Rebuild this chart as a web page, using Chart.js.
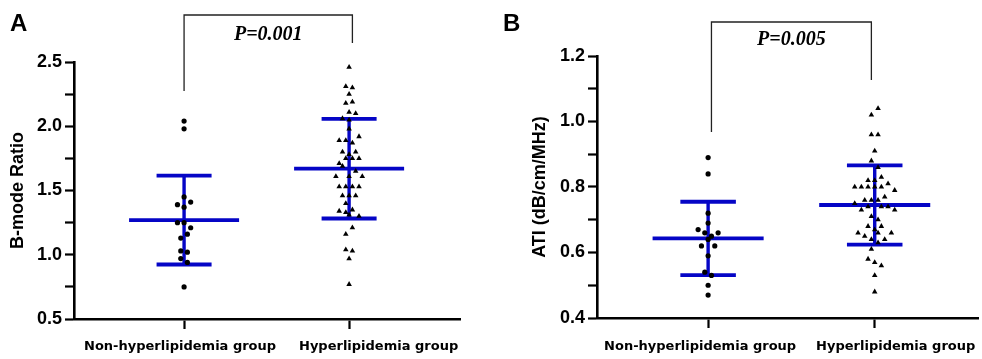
<!DOCTYPE html>
<html><head><meta charset="utf-8">
<script src="https://cdn.jsdelivr.net/npm/chart.js@4.4.0/dist/chart.umd.min.js"></script>
<style>
html,body{margin:0;padding:0;background:#fff;}
#wrap{position:relative;width:982px;height:359px;overflow:hidden;background:#fff;}
#cA{position:absolute;left:0;top:0;}
#cB{position:absolute;left:490px;top:0;}
</style></head><body>
<div id="wrap"><canvas id="cA" width="490" height="359"></canvas><canvas id="cB" width="492" height="359"></canvas></div>
<script>
// ---- data ----
const categories = ['Non-hyperlipidemia group', 'Hyperlipidemia group'];

const bmodeNon = [2.04, 1.98, 1.45, 1.39, 1.41, 1.37, 1.25, 1.25, 1.21, 1.16, 1.13, 1.03, 1.02, 0.97, 0.94, 0.75];
const bmodeNonCol = [0, 0, 0, -2, 2, 0, -2, 0, 2, 1, -1, -1, 1, -1, 1, 0];

const bmodeHyper = [2.46, 2.31, 2.30, 2.25, 2.18, 2.19, 2.11, 2.10, 2.06, 2.05, 1.98, 1.89, 1.89, 1.87, 1.92, 1.80, 1.80, 1.78, 1.75, 1.75, 1.75, 1.71, 1.69, 1.65, 1.61, 1.61, 1.61, 1.53, 1.53, 1.53, 1.53, 1.46, 1.46, 1.46, 1.40, 1.34, 1.33, 1.35, 1.31, 1.30, 1.21, 1.16, 1.04, 1.03, 0.97, 0.77];
const bmodeHyperCol = [0, -1, 1, 0, -1, 1, 0, 2, -2, 0, 0, -3, -1, 1, 3, -2, 2, 0, -1, 1, 3, -3, -2, 2, -4, 0, 4, -3, -1, 1, 3, -2, 0, 2, -1, -3, -1, 1, 0, 3, 1, -1, -1, 1, 0, 0];

const atiNon = [0.89, 0.84, 0.72, 0.69, 0.67, 0.66, 0.66, 0.65, 0.64, 0.62, 0.62, 0.59, 0.54, 0.53, 0.50, 0.47];
const atiNonCol = [0, 0, 0, 0, -3, -1, 3, 1, 0, -2, 2, 0, -1, 1, 0, 0];

const atiHyper = [1.04, 1.02, 0.96, 0.96, 0.91, 0.88, 0.86, 0.82, 0.82, 0.83, 0.81, 0.80, 0.80, 0.80, 0.80, 0.80, 0.79, 0.77, 0.76, 0.76, 0.76, 0.75, 0.73, 0.74, 0.74, 0.74, 0.73, 0.71, 0.70, 0.68, 0.68, 0.67, 0.66, 0.65, 0.66, 0.66, 0.64, 0.64, 0.63, 0.61, 0.58, 0.57, 0.56, 0.53, 0.48];
const atiHyperCol = [1, -1, -1, 1, 0, -1, 1, -2, 0, 2, 4, -6, -4, -2, 0, 2, 6, 3, -3, -1, 1, -6, -4, -2, 2, 4, 6, -1, 1, -2, 2, 0, -5, -3, 1, 5, -1, 3, 1, -1, -2, 0, 2, 0, 0];

const bmodeMean = [1.27, 1.67];
const bmodeSD = [0.346, 0.388];
const atiMean = [0.643, 0.745];
const atiSD = [0.112, 0.121];

const bmodeTicks = [0.5, 1.0, 1.5, 2.0, 2.5];
const atiTicks = [0.4, 0.6, 0.8, 1.0, 1.2];

const pTextA = 'P=0.001';
const pTextB = 'P=0.005';

// ---- styling ----
const BLUE = '#0505c6';
const COL_W = 0.02;     // width of one swarm column in category units
const MEAN_HALF = 1/3;
const CAP_HALF = 1/6;

function pts(vals, cols, g) {
  return vals.map((v, i) => ({x: g + cols[i] * COL_W, y: v}));
}
function seg(x1, y1, x2, y2, w) {
  return {data: [{x: x1, y: y1}, {x: x2, y: y2}], showLine: true, pointRadius: 0,
    borderColor: BLUE, borderWidth: w, borderCapStyle: 'butt', order: 2};
}
function summary(means, sds) {
  const out = [];
  means.forEach((m, g) => {
    const s = sds[g];
    out.push(seg(g, m - s, g, m + s, 3.4));
    out.push(seg(g - MEAN_HALF, m, g + MEAN_HALF, m, 3.8));
    out.push(seg(g - CAP_HALF, m + s, g + CAP_HALF, m + s, 3.8));
    out.push(seg(g - CAP_HALF, m - s, g + CAP_HALF, m - s, 3.8));
  });
  return out;
}

function annot(letter, letterX, br, labelShift) {
  return {
    id: 'annot_' + letter,
    afterDraw(chart) {
      const ctx = chart.ctx, xs = chart.scales.x;
      ctx.save();
      ctx.fillStyle = '#000';
      ctx.font = 'bold 24px "Liberation Sans", Arial, sans-serif';
      ctx.textBaseline = 'alphabetic';
      ctx.textAlign = 'left';
      ctx.fillText(letter, letterX, 31);
      // significance bracket
      const x1 = xs.getPixelForValue(br.x1), x2 = xs.getPixelForValue(br.x2);
      ctx.strokeStyle = '#222';
      ctx.lineWidth = 1.3;
      ctx.beginPath();
      ctx.moveTo(x1, br.leftEnd);
      ctx.lineTo(x1, br.top);
      ctx.lineTo(x2, br.top);
      ctx.lineTo(x2, br.rightEnd);
      ctx.stroke();
      ctx.font = 'italic bold 20px "Liberation Serif", "Times New Roman", serif';
      ctx.textAlign = 'center';
      ctx.fillText(br.text, (x1 + x2) / 2, br.textY);
      // category labels (shifted apart like the original)
      ctx.font = 'bold 13px "DejaVu Sans", sans-serif';
      categories.forEach((c, i) => {
        ctx.fillText(c, xs.getPixelForValue(i) + labelShift[i], 350);
      });
      ctx.restore();
    }
  };
}

function makeChart(id, cfg) {
  const yFont = {family: '"Liberation Sans", Arial, sans-serif', weight: 'bold', size: 18};
  return new Chart(document.getElementById(id), {
    type: 'scatter',
    data: {datasets: [
      {data: pts(cfg.v0, cfg.c0, 0), pointStyle: 'circle', pointRadius: 2.6, backgroundColor: '#000', borderWidth: 0, order: 1},
      {data: pts(cfg.v1, cfg.c1, 1), pointStyle: 'triangle', pointRadius: 3.2, backgroundColor: '#000', borderColor: '#000', borderWidth: 0, order: 1},
      ...summary(cfg.mean, cfg.sd)
    ]},
    options: {
      responsive: false, animation: false,
      layout: {padding: {top: cfg.top, right: cfg.right, left: 0, bottom: 0}},
      plugins: {legend: {display: false}, tooltip: {enabled: false}},
      scales: {
        x: {
          type: 'linear', min: -0.667, max: cfg.xmax,
          afterBuildTicks: s => { s.ticks = [{value: 0}, {value: 1}]; },
          afterFit: s => { s.height = cfg.xh; },
          ticks: {callback: () => '', autoSkip: false, maxRotation: 0, minRotation: 0,
            color: '#000', padding: 6,
            font: {family: '"DejaVu Sans", sans-serif', weight: 'bold', size: 13}},
          grid: {drawOnChartArea: false, drawTicks: true, tickLength: 10, tickWidth: 2.2, tickColor: '#000'},
          border: {display: true, width: 2.6, color: '#000'}
        },
        y: {
          min: cfg.ymin, max: cfg.ymax,
          afterFit: s => { s.width = cfg.yw; },
          ticks: {stepSize: cfg.step, color: '#000', padding: 3, font: yFont,
            callback: v => {
              const hit = cfg.labels.find(t => Math.abs(t - v) < 1e-6);
              return hit !== undefined ? hit.toFixed(1) : '';
            }},
          grid: {drawOnChartArea: false, drawTicks: true, tickLength: 9, tickWidth: 2.2, tickColor: '#000'},
          border: {display: true, width: 2.6, color: '#000'},
          title: {display: true, text: cfg.title, color: '#000', font: yFont, padding: {top: cfg.titlePad, bottom: 0}}
        }
      }
    },
    plugins: [annot(cfg.letter, cfg.letterX, cfg.br, cfg.labelShift)]
  });
}

makeChart('cA', {
  v0: bmodeNon, c0: bmodeNonCol, v1: bmodeHyper, c1: bmodeHyperCol,
  mean: bmodeMean, sd: bmodeSD,
  ymin: 0.5, ymax: 2.5, step: 0.25, labels: bmodeTicks,
  title: 'B-mode Ratio', titlePad: 7.5,
  top: 62, right: 30, xh: 40, yw: 74, xmax: 1.672,
  letter: 'A', letterX: 10, labelShift: [-4, 29.5],
  br: {x1: 0, x2: 1.02, top: 15, leftEnd: 91, rightEnd: 43, text: pTextA, textY: 40}
});

makeChart('cB', {
  v0: atiNon, c0: atiNonCol, v1: atiHyper, c1: atiHyperCol,
  mean: atiMean, sd: atiSD,
  ymin: 0.4, ymax: 1.2, step: 0.1, labels: atiTicks,
  title: 'ATI (dB/cm/MHz)', titlePad: 39,
  top: 56, right: 0, xh: 41, yw: 107, xmax: 1.62,
  letter: 'B', letterX: 13, labelShift: [-8, 21],
  br: {x1: 0.02, x2: 0.98, top: 22, leftEnd: 132, rightEnd: 80, text: pTextB, textY: 45}
});
</script>
</body></html>
